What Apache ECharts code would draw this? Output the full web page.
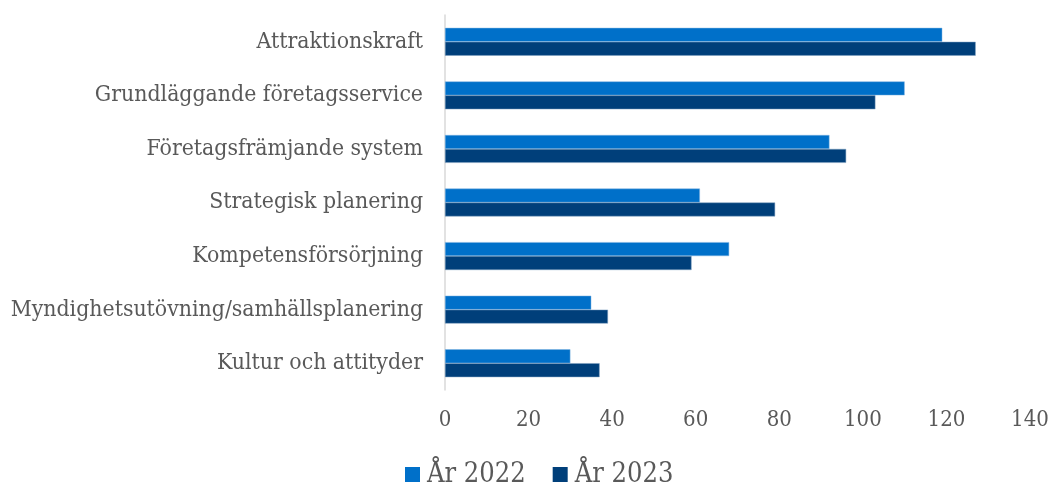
<!DOCTYPE html>
<html lang="sv">
<head>
<meta charset="UTF-8">
<title>Chart</title>
<style>
  html, body { margin: 0; padding: 0; background: #fff; }
  #main { width: 1054px; height: 487px; }
</style>
</head>
<body>
<div id="main"></div>
<script src="https://cdn.jsdelivr.net/npm/echarts@6/dist/echarts.min.js"></script>
<script>
var categories = [
    'Attraktionskraft',
    'Grundläggande företagsservice',
    'Företagsfrämjande system',
    'Strategisk planering',
    'Kompetensförsörjning',
    'Myndighetsutövning/samhällsplanering',
    'Kultur och attityder'
];
var year2022 = [119, 110, 92, 61, 68, 35, 30];
var year2023 = [127, 103, 96, 79, 59, 39, 37];
var xTicks = { min: 0, max: 140, interval: 20 };

var font = '"DejaVu Serif Condensed", "DejaVu Serif", serif';
var chart = echarts.init(document.getElementById('main'));
chart.setOption({
    animation: false,
    textStyle: { fontFamily: font },
    grid: { left: 445, right: 24, top: 15, bottom: 97 },
    legend: {
        top: 456,
        left: 400,
        itemWidth: 15,
        itemHeight: 15,
        itemGap: 27,
        icon: 'rect',
        itemStyle: { borderWidth: 0 },
        textStyle: { fontFamily: font, fontSize: 27, color: '#595959', padding: [0, 0, 0, 2] },
        data: ['År 2022', 'År 2023']
    },
    xAxis: {
        type: 'value',
        min: xTicks.min,
        max: xTicks.max,
        interval: xTicks.interval,
        axisLine: { show: false },
        axisTick: { show: false },
        splitLine: { show: false },
        axisLabel: { color: '#595959', fontSize: 22, margin: 19, fontFamily: font }
    },
    yAxis: {
        type: 'category',
        inverse: true,
        data: categories,
        axisLine: { lineStyle: { color: '#d9d9d9', width: 1.5 } },
        axisTick: { show: false },
        axisLabel: { color: '#595959', fontSize: 22.8, margin: 22, fontFamily: font }
    },
    series: [{
        name: 'År 2022',
        type: 'bar',
        data: year2022,
        barGap: 0,
        barCategoryGap: '48%',
        itemStyle: { color: '#0070C9', borderColor: '#7fb3e0', borderWidth: 0.5 }
    }, {
        name: 'År 2023',
        type: 'bar',
        data: year2023,
        barGap: 0,
        barCategoryGap: '48%',
        itemStyle: { color: '#003F7A', borderColor: '#7fa0c0', borderWidth: 0.5 }
    }]
});
</script>
</body>
</html>
